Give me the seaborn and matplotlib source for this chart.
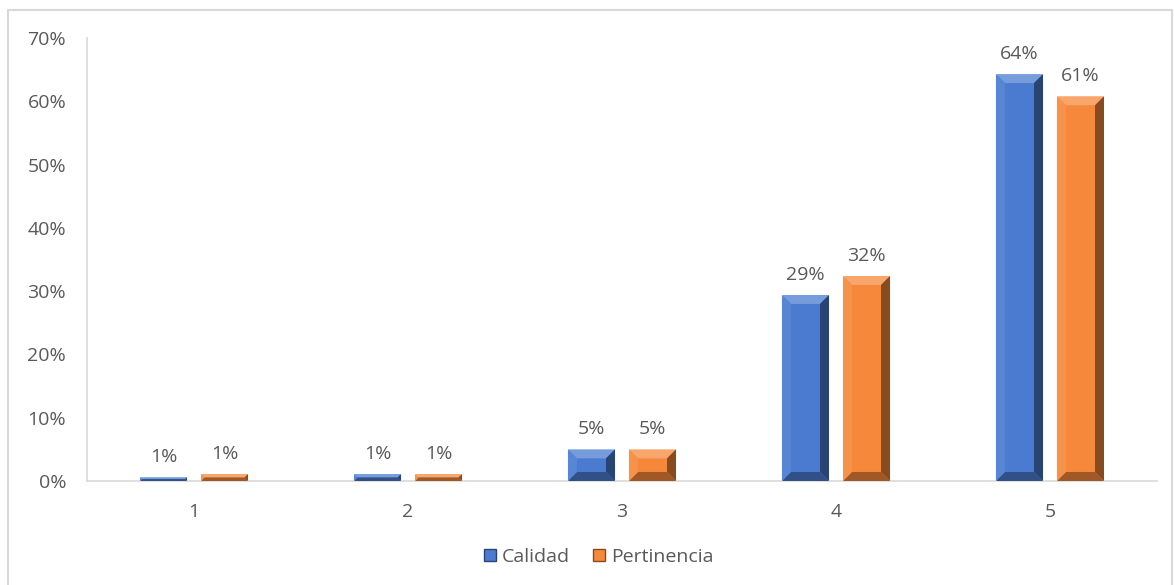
import matplotlib
matplotlib.use('Agg')
import matplotlib.pyplot as plt
from matplotlib.patches import Polygon, Rectangle, Patch
from matplotlib.transforms import IdentityTransform
from matplotlib.ticker import PercentFormatter
import numpy as np
import pandas as pd
import seaborn as sns

# Data
categories = ["1", "2", "3", "4", "5"]
calidad = [0.006, 0.011, 0.050, 0.294, 0.643]
pertinencia = [0.011, 0.011, 0.050, 0.324, 0.608]
series_names = ["Calidad", "Pertinencia"]
colors = {"Calidad": "#4A7BD0", "Pertinencia": "#F5883A"}

df = pd.DataFrame({
    "cat": categories * 2,
    "val": calidad + pertinencia,
    "serie": [series_names[0]] * 5 + [series_names[1]] * 5,
})

sns.set_theme(style="white")
plt.rcParams['font.family'] = ['Open Sans', 'DejaVu Sans']
txt_color = "#595959"
fs = 14

fig = plt.figure(figsize=(11.74, 5.85), dpi=100)
ax = fig.add_axes([0.0741, 0.1778, 0.9114, 0.7572])

sns.barplot(data=df, x="cat", y="val", hue="serie", palette=colors,
            width=0.57, gap=0.228, ax=ax, legend=False, saturation=1,
            errorbar=None)

ax.set_xlim(-0.5, 4.5)
ax.set_ylim(0, 0.70)
ax.set_yticks(np.arange(0, 0.71, 0.10))
ax.yaxis.set_major_formatter(PercentFormatter(1.0, decimals=0))
ax.set_xlabel("")
ax.set_ylabel("")
ax.tick_params(axis="both", length=0, labelsize=fs, colors=txt_color)
ax.tick_params(axis="y", pad=15)
ax.tick_params(axis="x", pad=16)
for s in ["top", "right"]:
    ax.spines[s].set_visible(False)
for s in ["left", "bottom"]:
    ax.spines[s].set_color("#D9D9D9")
    ax.spines[s].set_linewidth(1.2)

for cont in ax.containers:
    ax.bar_label(cont, labels=[f"{round(v * 100):.0f}%" for v in cont.datavalues],
                 padding=8, fontsize=fs, color=txt_color)


def shade(c, f):
    rgb = np.array(matplotlib.colors.to_rgb(c))
    if f > 0:
        rgb = rgb + (1 - rgb) * f
    else:
        rgb = rgb * (1 + f)
    return tuple(np.clip(rgb, 0, 1))


# bevel effect like the Excel chart
fig.canvas.draw()
for bar in ax.patches:
    (x0, yb), (x1, yt) = ax.transData.transform(
        [(bar.get_x(), 0), (bar.get_x() + bar.get_width(), bar.get_height())])
    base = bar.get_facecolor()
    b = min(9, (x1 - x0) / 4, (yt - yb) / 2)
    polys = [
        ([(x0, yt), (x1, yt), (x1 - b, yt - b), (x0 + b, yt - b)], shade(base, 0.25)),
        ([(x1, yt), (x1, yb), (x1 - b, yb + b), (x1 - b, yt - b)], shade(base, -0.45)),
        ([(x0, yb), (x1, yb), (x1 - b, yb + b), (x0 + b, yb + b)], shade(base, -0.35)),
        ([(x0, yt), (x0, yb), (x0 + b, yb + b), (x0 + b, yt - b)], shade(base, 0.08)),
    ]
    for pts, col in polys:
        fig.add_artist(Polygon(pts, closed=True, facecolor=col, edgecolor="none",
                               transform=IdentityTransform(), zorder=3))

handles = [Patch(facecolor=colors[n], edgecolor=shade(colors[n], -0.45)) for n in series_names]
fig.legend(handles, series_names, loc="center", bbox_to_anchor=(0.51, 0.048), ncol=2,
           frameon=False, handlelength=0.6, handleheight=0.6, handletextpad=0.3,
           columnspacing=1.2, fontsize=fs, labelcolor=txt_color)

# light border around the chart area
fig.add_artist(Rectangle((8 / 1174, -0.01), 1164 / 1174, 1 - 10 / 585 + 0.01,
                         transform=fig.transFigure, fill=False,
                         edgecolor="#D9D9D9", linewidth=1.5))

fig.savefig("out.png", dpi=100)
